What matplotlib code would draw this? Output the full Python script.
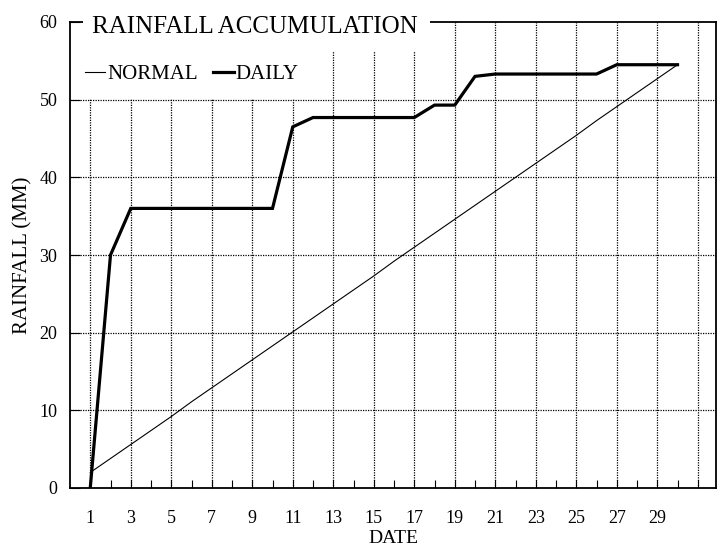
import matplotlib
matplotlib.use('Agg')
import matplotlib.pyplot as plt
from matplotlib.lines import Line2D
from matplotlib.patches import Rectangle

# rainfall accumulation data (mm)
days = list(range(1, 31))
normal = [2.0, 3.8, 5.6, 7.4, 9.2, 11.1, 12.9, 14.7, 16.5, 18.3,
          20.1, 21.9, 23.7, 25.5, 27.3, 29.2, 31.0, 32.8, 34.6, 36.4,
          38.2, 40.0, 41.8, 43.6, 45.4, 47.3, 49.1, 50.9, 52.7, 54.5]
daily = [0.0, 30.0, 36.0, 36.0, 36.0, 36.0, 36.0, 36.0, 36.0, 36.0,
         46.5, 47.7, 47.7, 47.7, 47.7, 47.7, 47.7, 49.3, 49.3, 53.0,
         53.3, 53.3, 53.3, 53.3, 53.3, 53.3, 54.5, 54.5, 54.5, 54.5]
xticks = list(range(1, 30, 2))
yticks = [0, 10, 20, 30, 40, 50, 60]

plt.rcParams['font.family'] = ['Liberation Serif', 'DejaVu Serif']

fig = plt.figure(figsize=(7.2, 5.52), dpi=100)
ax = fig.add_axes([70 / 720, 1 - 488 / 552, 646 / 720, 466 / 552])

ax.plot(days, normal, color='black', lw=0.8, zorder=4)
ax.plot(days, daily, color='black', lw=2.3, zorder=4, solid_joinstyle='miter')

ax.set_xlim(0, 31.9)
ax.set_ylim(0, 60)
ax.set_xticks(xticks)
ax.set_xticks(range(1, 32), minor=True)
ax.set_yticks(yticks)

# dotted grid: every other day and every 10 mm
for d in range(1, 32, 2):
    ax.axvline(d, color='black', lw=0.9, ls=(0, (1, 1)), zorder=1)
for v in yticks[1:-1]:
    ax.axhline(v, color='black', lw=0.9, ls=(0, (1, 1)), zorder=1)

ax.tick_params(axis='x', which='both', direction='in', length=6, width=0.8,
               pad=16, labelsize=13)
ax.tick_params(axis='y', direction='in', length=7, width=0.8, pad=9, labelsize=13)
ax.tick_params(axis='y', which='minor', left=False)
for s in ax.spines.values():
    s.set_linewidth(1.3)

ax.set_xlabel('DATE', fontsize=14, labelpad=2)
ax.set_ylabel('RAINFALL (MM)', fontsize=15, labelpad=5)

# white areas behind the title and the key
ax.add_patch(Rectangle((0.65, 56.1), 17.15, 5, facecolor='white', edgecolor='none',
                       zorder=3, clip_on=False))
ax.add_patch(Rectangle((0.1, 50.1), 11.9, 6.1, facecolor='white', edgecolor='none',
                       zorder=3))
ax.text(1.1, 59.4, 'RAINFALL ACCUMULATION', fontsize=18, va='center', ha='left', zorder=5)

handles = [Line2D([], [], color='black', lw=0.8), Line2D([], [], color='black', lw=2.3)]
leg = ax.legend(handles, ['NORMAL', 'DAILY'], loc='upper left', ncol=2, frameon=False,
                fontsize=15, handlelength=1.0, handletextpad=0.1, columnspacing=0.7,
                bbox_to_anchor=(0.0, 0.94), borderaxespad=0.3)
leg.set_zorder(5)

fig.savefig('out.png', dpi=100)
